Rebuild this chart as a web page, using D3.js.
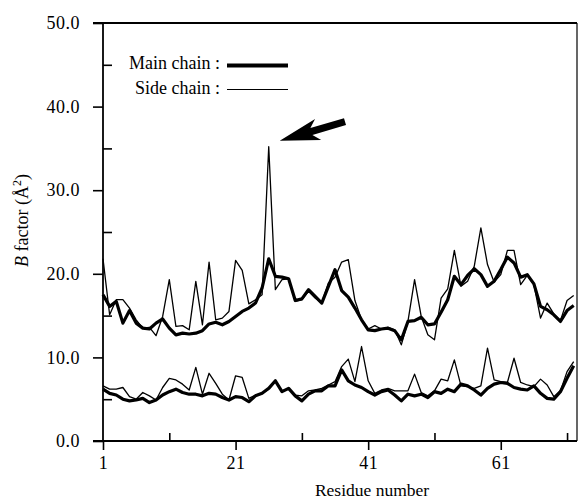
<!DOCTYPE html>
<html><head><meta charset="utf-8">
<script src="https://cdn.jsdelivr.net/npm/d3@7"></script>
<style>body{margin:0;background:#fff} svg{display:block}</style>
</head><body><svg id="c" width="578" height="501"></svg>
<script>
const residues = d3.range(1, 73);
const mainUpper = [
17.5,16.1,16.7,14.1,15.6,14.1,13.5,13.4,14.1,14.6,
13.5,12.7,12.9,12.8,12.9,13.2,14.0,14.2,13.9,14.3,
14.9,15.5,15.9,16.5,18.3,21.8,19.7,19.6,19.4,16.8,
17.0,18.1,17.3,16.5,18.5,20.5,18.0,17.2,15.9,14.5,
13.3,13.2,13.4,13.5,13.2,12.1,14.3,14.4,14.8,13.9,
14.0,15.4,16.9,19.7,18.7,19.8,20.6,19.9,18.5,19.1,
20.5,22.0,21.3,19.6,19.9,18.8,16.1,15.7,15.1,14.3,
15.6,16.2];
const sideUpper = [
21.8,15.1,16.9,16.9,15.9,14.5,13.5,13.6,12.6,14.9,
19.3,13.7,13.8,13.3,19.1,13.9,21.4,14.5,14.7,15.5,
21.6,20.4,16.4,16.9,17.5,35.2,18.1,19.3,19.4,16.7,
16.9,17.9,17.1,16.5,18.9,19.6,21.4,21.7,16.8,14.5,
13.4,13.8,13.4,13.6,13.3,11.5,14.3,19.3,14.9,12.7,
12.1,17.1,18.2,22.8,18.5,19.1,20.9,25.5,21.1,19.0,
19.9,22.8,22.8,18.7,19.8,18.7,14.7,16.5,15.2,14.4,
16.8,17.4];
const mainLower = [
6.2,5.7,5.5,5.0,4.8,4.9,5.1,4.6,4.9,5.5,
5.9,6.2,5.8,5.6,5.6,5.4,5.7,5.6,5.2,4.9,
5.3,5.2,4.7,5.4,5.7,6.3,7.2,5.9,6.3,5.4,
4.8,5.6,6.0,6.0,6.6,6.6,8.5,7.2,6.7,6.4,
5.9,5.5,5.9,6.1,5.5,4.8,5.6,5.4,5.6,5.2,
5.9,5.7,6.2,5.9,6.8,6.6,6.1,5.5,6.3,6.8,
7.0,6.9,6.4,6.2,6.1,6.6,5.7,5.1,5.0,5.9,
7.5,9.0];
const sideLower = [
6.6,6.2,6.2,6.4,5.3,5.0,5.8,5.4,4.9,6.4,
7.5,7.3,6.8,6.1,8.8,5.6,8.1,6.9,5.6,4.9,
7.8,7.6,5.1,5.5,5.7,6.2,7.1,6.0,6.2,5.5,
5.4,6.0,6.1,6.3,6.7,7.1,8.9,9.8,7.1,11.3,
7.2,5.7,6.1,6.3,6.0,6.0,6.0,8.0,5.8,5.4,
6.0,7.4,7.2,9.7,6.6,6.5,6.3,6.6,11.1,7.3,
7.1,7.0,9.9,7.0,6.7,6.5,7.4,6.7,5.3,6.0,
8.3,9.5];
const yMajorTicks = [0,10,20,30,40,50];
const yMinorTicks = [5,15,25,35,45];
const xMajorTicks = [1,21,41,61];
const xMinorTicks = [11,31,51,71];
const legendLabels = ["Main chain :", "Side chain :"];
const peakResidue = 26;

const svg = d3.select("#c");
const FONT = "'Liberation Serif','Times New Roman',serif";
const x = d3.scaleLinear().domain([1, 72.5]).range([103, 577]);
const y = d3.scaleLinear().domain([0, 50]).range([441, 23]);

// axes
const gy = svg.append("g").attr("transform","translate(103,0)")
  .call(d3.axisLeft(y).tickValues(yMajorTicks).tickFormat(d3.format(".1f")).tickSize(10).tickPadding(13).tickSizeOuter(0));
const gy2 = svg.append("g").attr("transform","translate(103,0)")
  .call(d3.axisRight(y).tickValues(yMinorTicks).tickFormat("").tickSize(9).tickSizeOuter(0));
const gx = svg.append("g").attr("transform","translate(0,441)")
  .call(d3.axisBottom(x).tickValues(xMajorTicks).tickFormat(d3.format("d")).tickSize(9).tickPadding(6).tickSizeOuter(0));
const gx2 = svg.append("g").attr("transform","translate(0,441)")
  .call(d3.axisTop(x).tickValues(xMinorTicks).tickFormat("").tickSize(8).tickSizeOuter(0));
[gy,gy2,gx,gx2].forEach(g=>{
  g.select(".domain").remove();
  g.selectAll(".tick line").attr("stroke","#000").attr("stroke-width",1.6);
  g.selectAll("text").attr("font-family",FONT).attr("font-size",18).attr("fill","#000").attr("letter-spacing","0.5px");
});

// frame
const frame = svg.append("g").attr("stroke","#000").attr("stroke-width",1.8).attr("fill","none");
frame.append("line").attr("x1",x(1)).attr("x2",x(1)).attr("y1",y(50)).attr("y2",y(0));
frame.append("line").attr("x1",x(1)-10).attr("x2",x.range()[1]).attr("y1",y(0)).attr("y2",y(0));
frame.append("line").attr("x1",x(1)-10).attr("x2",x.range()[1]).attr("y1",y(50)).attr("y2",y(50));
frame.append("line").attr("x1",x.range()[1]).attr("x2",x.range()[1]).attr("y1",y(50)).attr("y2",y(0)).attr("stroke-width",1.2);

// series
const line = d3.line().x((d,i)=>x(residues[i])).y(d=>y(d));
const series = [
  {v: sideUpper, w: 1.3}, {v: sideLower, w: 1.3},
  {v: mainUpper, w: 3.2}, {v: mainLower, w: 3.2}
];
svg.append("g").selectAll("path").data(series).join("path")
  .attr("d", s=>line(s.v)).attr("fill","none").attr("stroke","#000")
  .attr("stroke-width", s=>s.w).attr("stroke-linejoin","round");

// legend
const lg = svg.append("g").attr("font-family",FONT).attr("font-size",18);
legendLabels.forEach((t,i)=>{
  const yy = 69 + i*24.5;
  lg.append("text").attr("x",220).attr("y",yy).attr("text-anchor","end").text(t);
  lg.append("line").attr("x1",227).attr("x2",288).attr("y1",yy-3.5-i*0.5).attr("y2",yy-3.5-i*0.5)
    .attr("stroke","#000").attr("stroke-width", i===0?4.2:1.2);
});

// arrow annotation pointing at the peak
const tip = [x(peakResidue)+11, y(sideUpper[peakResidue-1])-6];
const ang = Math.atan2(-19, 65) * 180 / Math.PI;
svg.append("path")
  .attr("transform", `translate(${tip[0]},${tip[1]}) rotate(${ang})`)
  .attr("d", "M0,0 L40,-11 L33,-3.6 L68,-3.6 L68,3.6 L33,3.6 L40,11 Z")
  .attr("fill","#000");

// axis titles
svg.append("text").attr("x",372).attr("y",496).attr("text-anchor","middle")
  .attr("font-family",FONT).attr("font-size",17.5).text("Residue number");
const yt = svg.append("text").attr("transform","translate(28,220.5) rotate(-90)")
  .attr("text-anchor","middle").attr("font-family",FONT).attr("font-size",18);
yt.append("tspan").attr("font-style","italic").text("B");
yt.append("tspan").text(" factor (Å");
yt.append("tspan").attr("font-size",12).attr("dy",-7).text("2");
yt.append("tspan").attr("dy",7).text(")");
</script></body></html>
